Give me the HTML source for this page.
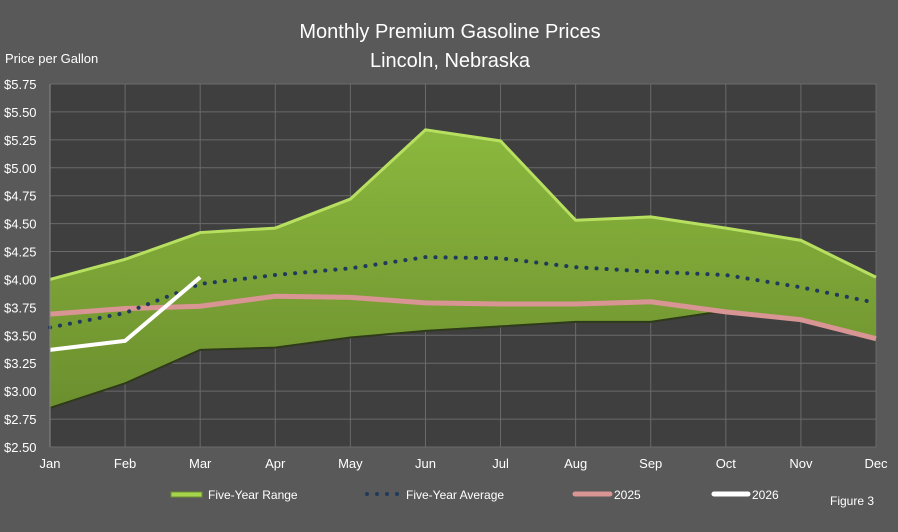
<!DOCTYPE html>
<html><head><meta charset="utf-8"><style>
body{margin:0;background:#595959;}
svg{display:block;font-family:"Liberation Sans",sans-serif;}
</style></head><body>
<svg id="c" width="898" height="532">
<defs>
<linearGradient id="g" x1="0" y1="0" x2="0" y2="1">
<stop offset="0" stop-color="#8bb83e"/><stop offset="1" stop-color="#6c8f2e"/>
</linearGradient>
</defs>
<rect width="898" height="532" fill="#595959"/>
<text x="450" y="38" text-anchor="middle" fill="#fff" font-size="20">Monthly Premium Gasoline Prices</text>
<text x="450" y="67" text-anchor="middle" fill="#fff" font-size="20">Lincoln, Nebraska</text>
<text x="5" y="63" fill="#fff" font-size="13">Price per Gallon</text>
<rect x="50" y="84" width="826" height="363" fill="#3f3f3f"/>
<g id="grid"></g><g id="series"></g><g id="axes"></g>
<g font-size="12" fill="#fff">
<rect x="171" y="492" width="31" height="5" fill="#a6d44c" stroke="#6c8f2e"/>
<text x="208" y="499">Five-Year Range</text>
<g fill="#1f3a5a"><circle cx="367" cy="494" r="2"/><circle cx="377" cy="494" r="2"/><circle cx="387" cy="494" r="2"/><circle cx="397" cy="494" r="2"/></g>
<text x="406" y="499">Five-Year Average</text>
<line x1="575" y1="494" x2="610" y2="494" stroke="#d99594" stroke-width="5" stroke-linecap="round"/>
<text x="614" y="499">2025</text>
<line x1="714" y1="494" x2="748" y2="494" stroke="#fff" stroke-width="5" stroke-linecap="round"/>
<text x="752" y="499">2026</text>
<text x="830" y="505">Figure 3</text>
</g>
</svg>
<script>
const months=["Jan","Feb","Mar","Apr","May","Jun","Jul","Aug","Sep","Oct","Nov","Dec"];
const rangeHigh=[4.00,4.18,4.42,4.46,4.72,5.34,5.24,4.53,4.56,4.46,4.35,4.02];
const rangeLow=[2.85,3.07,3.37,3.39,3.48,3.54,3.58,3.62,3.62,3.72,3.64,3.47];
const avg=[3.57,3.70,3.96,4.04,4.10,4.20,4.19,4.11,4.07,4.04,3.93,3.79];
const y2025=[3.69,3.74,3.76,3.85,3.84,3.79,3.78,3.78,3.80,3.71,3.64,3.47];
const y2026=[3.37,3.45,4.02];
const yTicks=[2.50,2.75,3.00,3.25,3.50,3.75,4.00,4.25,4.50,4.75,5.00,5.25,5.50,5.75];
const X0=50,X1=876,Y0=447,Y1=84,VMIN=2.5,VMAX=5.75;
const xs=i=>X0+i*(X1-X0)/(months.length-1);
const ys=v=>Y0-(v-VMIN)/(VMAX-VMIN)*(Y0-Y1);
const NS="http://www.w3.org/2000/svg";
function mk(p,t,a){const e=document.createElementNS(NS,t);for(const k in a)e.setAttribute(k,a[k]);p.appendChild(e);return e;}
const gridG=document.getElementById('grid'),serG=document.getElementById('series'),axG=document.getElementById('axes');
yTicks.forEach(v=>{
 const l=mk(gridG,'line',{x1:X0,x2:X1,y1:ys(v),y2:ys(v),stroke:'#6a6a6a','stroke-width':1});
 
 
 const t=mk(axG,'text',{x:4,y:ys(v)+5,fill:'#fff','font-size':13});
 t.textContent='$'+v.toFixed(2);
 
 
});
months.forEach((m,i)=>{
 const l=mk(gridG,'line',{x1:xs(i),x2:xs(i),y1:Y1,y2:Y0,stroke:'#6a6a6a','stroke-width':1});
 
 
 const t=mk(axG,'text',{x:xs(i),y:468,fill:'#fff','font-size':13,'text-anchor':'middle'});
 t.textContent=m;
 
 
});
const yAxisLine=mk(axG,'line',{x1:X0,x2:X0,y1:Y1,y2:Y0,stroke:'#888'});


const pts=a=>a.map((v,i)=>xs(i)+','+ys(v)).join(' ');
const areaEl=mk(serG,'polygon',{points:pts(rangeHigh)+' '+rangeLow.map((v,i)=>[i,v]).reverse().map(([i,v])=>xs(i)+','+ys(v)).join(' '),fill:'url(#g)'});


const highEl=mk(serG,'polyline',{points:pts(rangeHigh),fill:'none',stroke:'#b8e060','stroke-width':3});


const lowEl=mk(serG,'polyline',{points:pts(rangeLow),fill:'none',stroke:'#2f3a1a','stroke-width':2});


const l25=mk(serG,'polyline',{points:pts(y2025),fill:'none',stroke:'#d99594','stroke-width':5});


const la=mk(serG,'polyline',{points:pts(avg),fill:'none',stroke:'#1f3a5a','stroke-width':4,'stroke-dasharray':'0.1 10','stroke-linecap':'round'});


const l26=mk(serG,'polyline',{points:pts(y2026),fill:'none',stroke:'#fff','stroke-width':4});


</script>
</body></html>
